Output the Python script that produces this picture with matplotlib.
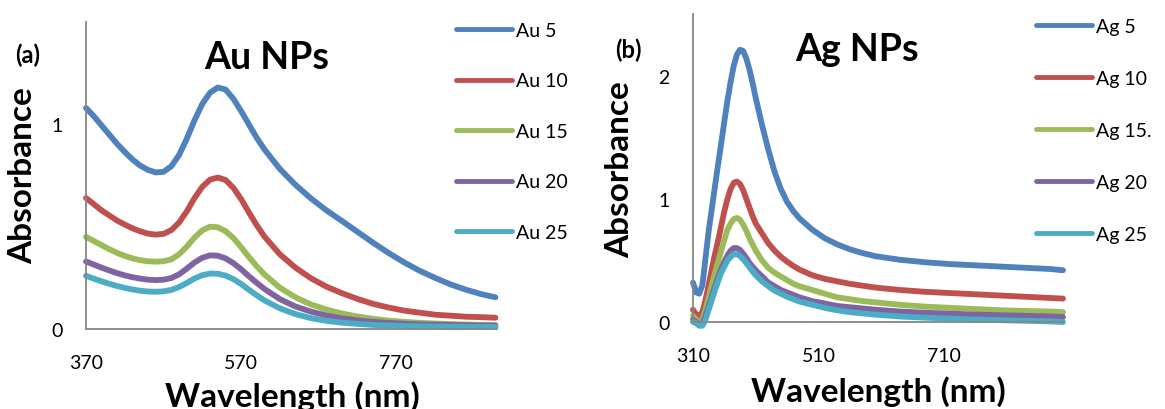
import numpy as np
import matplotlib
matplotlib.use("Agg")
import matplotlib.pyplot as plt

plt.rcParams['font.family'] = ['Lato', 'DejaVu Sans']

colors = ['#4F81BD', '#C0504D', '#9BBB59', '#8064A2', '#4BACC6']

# ---- Au panel data ----
wl_au = [370, 380, 390, 400, 410, 420, 430, 440, 450, 460, 470, 480, 490, 500,
         510, 520, 530, 540, 550, 560, 570, 580, 590, 600, 620, 640, 660, 680,
         700, 720, 740, 760, 780, 800, 820, 840, 860, 880, 898]
au5 = [1.08, 1.04, 0.995, 0.95, 0.905, 0.865, 0.828, 0.798, 0.777, 0.765, 0.768,
       0.795, 0.85, 0.93, 1.02, 1.10, 1.155, 1.18, 1.17, 1.125, 1.065, 1.0, 0.935,
       0.878, 0.782, 0.705, 0.638, 0.58, 0.528, 0.475, 0.422, 0.372, 0.326, 0.285,
       0.25, 0.218, 0.192, 0.17, 0.155]
au10 = [0.64, 0.61, 0.58, 0.555, 0.53, 0.51, 0.492, 0.477, 0.466, 0.461, 0.465,
        0.483, 0.52, 0.575, 0.64, 0.695, 0.73, 0.74, 0.728, 0.69, 0.635, 0.57,
        0.508, 0.452, 0.365, 0.30, 0.248, 0.207, 0.175, 0.147, 0.123, 0.105,
        0.09, 0.08, 0.07, 0.065, 0.06, 0.058, 0.055]
au15 = [0.45, 0.43, 0.41, 0.39, 0.372, 0.357, 0.345, 0.336, 0.331, 0.329, 0.331,
        0.34, 0.365, 0.403, 0.447, 0.482, 0.50, 0.497, 0.478, 0.445, 0.40,
        0.352, 0.307, 0.267, 0.202, 0.155, 0.12, 0.095, 0.076, 0.061, 0.05,
        0.041, 0.035, 0.03, 0.027, 0.024, 0.022, 0.02, 0.02]
au20 = [0.33, 0.315, 0.30, 0.286, 0.273, 0.262, 0.253, 0.246, 0.241, 0.239,
        0.241, 0.249, 0.267, 0.295, 0.325, 0.348, 0.36, 0.358, 0.345, 0.322,
        0.292, 0.258, 0.226, 0.196, 0.146, 0.11, 0.085, 0.066, 0.052, 0.042,
        0.035, 0.03, 0.026, 0.023, 0.021, 0.02, 0.018, 0.017, 0.016]
au25 = [0.26, 0.246, 0.233, 0.221, 0.21, 0.201, 0.193, 0.187, 0.183, 0.182,
        0.184, 0.191, 0.205, 0.225, 0.247, 0.263, 0.271, 0.27, 0.261, 0.244,
        0.22, 0.192, 0.165, 0.14, 0.101, 0.073, 0.053, 0.04, 0.031, 0.025,
        0.02, 0.017, 0.015, 0.013, 0.012, 0.011, 0.01, 0.01, 0.01]
au_labels = ['Au 5', 'Au 10', 'Au 15', 'Au 20', 'Au 25']

# ---- Ag panel data ----
wl_ag = [310, 315, 320, 325, 330, 335, 340, 345, 350, 355, 360, 365, 370, 375,
         380, 385, 390, 395, 400, 405, 410, 420, 430, 440, 450, 460, 470, 480,
         500, 520, 540, 560, 580, 600, 640, 680, 720, 760, 800, 840, 880, 900]
ag5 = [0.32, 0.24, 0.23, 0.30, 0.52, 0.74, 0.92, 1.10, 1.28, 1.45, 1.63, 1.80,
       1.95, 2.08, 2.17, 2.21, 2.20, 2.14, 2.05, 1.94, 1.82, 1.60, 1.40, 1.22,
       1.08, 0.975, 0.90, 0.84, 0.75, 0.68, 0.63, 0.59, 0.56, 0.535, 0.505,
       0.485, 0.47, 0.46, 0.45, 0.44, 0.43, 0.42]
ag10 = [0.10, 0.06, 0.05, 0.08, 0.18, 0.30, 0.43, 0.55, 0.66, 0.78, 0.90, 1.0,
        1.08, 1.13, 1.14, 1.12, 1.07, 1.0, 0.93, 0.86, 0.80, 0.72, 0.64, 0.58,
        0.53, 0.49, 0.455, 0.425, 0.38, 0.35, 0.33, 0.31, 0.295, 0.28, 0.26,
        0.245, 0.235, 0.225, 0.215, 0.205, 0.195, 0.19]
ag15 = [0.05, 0.02, 0.0, 0.02, 0.10, 0.20, 0.30, 0.40, 0.49, 0.58, 0.67, 0.75,
        0.80, 0.835, 0.845, 0.83, 0.79, 0.74, 0.68, 0.63, 0.58, 0.50, 0.44,
        0.40, 0.37, 0.34, 0.31, 0.29, 0.26, 0.23, 0.20, 0.185, 0.17, 0.16, 0.14,
        0.125, 0.115, 0.105, 0.095, 0.09, 0.085, 0.08]
ag20 = [0.02, 0.0, -0.02, -0.01, 0.05, 0.13, 0.21, 0.29, 0.36, 0.43, 0.49, 0.54,
        0.58, 0.60, 0.60, 0.585, 0.555, 0.52, 0.48, 0.45, 0.42, 0.37, 0.32,
        0.29, 0.26, 0.24, 0.22, 0.20, 0.17, 0.15, 0.13, 0.12, 0.11, 0.10, 0.085,
        0.075, 0.068, 0.06, 0.055, 0.05, 0.045, 0.04]
ag25 = [0.0, -0.01, -0.03, -0.03, 0.02, 0.10, 0.18, 0.26, 0.33, 0.40, 0.45, 0.50,
        0.53, 0.55, 0.55, 0.535, 0.51, 0.48, 0.445, 0.41, 0.38, 0.33, 0.29,
        0.255, 0.23, 0.205, 0.185, 0.165, 0.14, 0.115, 0.095, 0.08, 0.07, 0.06,
        0.045, 0.035, 0.028, 0.02, 0.015, 0.01, 0.005, 0.0]
ag_labels = ['Ag 5', 'Ag 10', 'Ag 15.', 'Ag 20', 'Ag 25']

W, H = 1165, 410
fig = plt.figure(figsize=(W / 100, H / 100), dpi=100)


def box(x0, y0, x1, y1):
    # pixel box (top-left origin) -> figure fraction rect
    return [x0 / W, 1 - y1 / H, (x1 - x0) / W, (y1 - y0) / H]


def fx(x):
    return x / W


def fy(y):
    return 1 - y / H


def style(ax, xlim, ylim, xt, yt):
    ax.set_xlim(*xlim)
    ax.set_ylim(*ylim)
    ax.set_xticks(xt)
    ax.set_yticks(yt)
    for s in ['top', 'right']:
        ax.spines[s].set_visible(False)
    for s in ['left', 'bottom']:
        ax.spines[s].set_color('#868686')
        ax.spines[s].set_linewidth(1.3)
    ax.tick_params(axis='both', length=0, labelsize=14)
    ax.tick_params(axis='x', pad=18)
    ax.tick_params(axis='y', pad=17)


def legend(ax, x, y, spacing):
    leg = ax.legend(loc='upper left', bbox_to_anchor=(fx(x), fy(y)),
                    bbox_transform=fig.transFigure, frameon=False, fontsize=14,
                    handlelength=2.9, handletextpad=0.2, labelspacing=spacing,
                    borderpad=0, borderaxespad=0)
    for ln in leg.get_lines():
        ln.set_linewidth(3.5)


ax1 = fig.add_axes(box(86, 23, 497, 330))
for ys, c, lab in zip([au5, au10, au15, au20, au25], colors, au_labels):
    ax1.plot(wl_au, ys, color=c, lw=4.2, label=lab, solid_capstyle='round',
             clip_on=False)
style(ax1, (370, 900), (0, 1.5), [370, 570, 770], [0, 1])
legend(ax1, 456, 23, 1.72)

ax2 = fig.add_axes(box(693, 15, 1063, 323))
for ys, c, lab in zip([ag5, ag10, ag15, ag20, ag25], colors, ag_labels):
    ax2.plot(wl_ag, ys, color=c, lw=4.2, label=lab, solid_capstyle='round',
             clip_on=False)
style(ax2, (310, 900), (0, 2.5), [310, 510, 710], [0, 1, 2])
legend(ax2, 1036, 19, 1.8)

# titles, panel letters, axis labels
fig.text(fx(267), fy(58), 'Au NPs', fontsize=27, fontweight='bold',
         ha='center', va='center')
fig.text(fx(857), fy(50), 'Ag NPs', fontsize=27, fontweight='bold',
         ha='center', va='center')
fig.text(fx(28), fy(55), '(a)', fontsize=17, fontweight='bold',
         ha='center', va='center')
fig.text(fx(628), fy(50), '(b)', fontsize=17, fontweight='bold',
         ha='center', va='center')
fig.text(fx(23), fy(176), 'Absorbance', fontsize=24, fontweight='bold',
         rotation=90, ha='center', va='center')
fig.text(fx(620), fy(170), 'Absorbance', fontsize=24, fontweight='bold',
         rotation=90, ha='center', va='center')
fig.text(fx(292), fy(381), 'Wavelength (nm)', fontsize=24, fontweight='bold',
         ha='center', va='top')
fig.text(fx(878), fy(376), 'Wavelength (nm)', fontsize=24, fontweight='bold',
         ha='center', va='top')

fig.savefig('out.png', dpi=100)
